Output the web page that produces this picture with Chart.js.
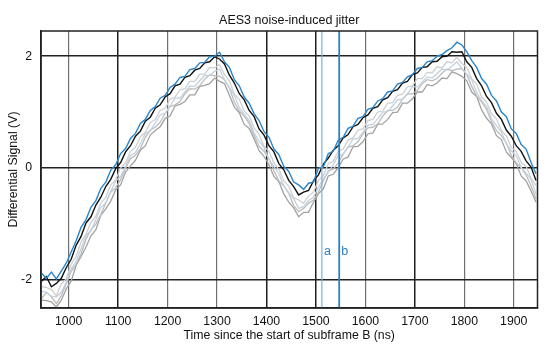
<!DOCTYPE html>
<html>
<head>
<meta charset="utf-8">
<script src="https://cdn.jsdelivr.net/npm/chart.js@4/dist/chart.umd.min.js"></script>
<style>
  html, body { margin: 0; padding: 0; background: #fff; }
  #wrap { width: 550px; height: 351px; }
</style>
</head>
<body>
<div id="wrap"><canvas id="c" width="550" height="351"></canvas></div>
<script>
// ---- data ----
const times = [945,955,965,975,985,995,1005,1015,1025,1035,1045,1055,1065,1075,1085,1095,1105,1115,1125,1135,1145,1155,1165,1175,1185,1195,1205,1215,1225,1235,1245,1255,1265,1275,1285,1295,1305,1315,1325,1335,1345,1355,1365,1375,1385,1395,1405,1415,1425,1435,1445,1455,1465,1475,1485,1495,1505,1515,1525,1535,1545,1555,1565,1575,1585,1595,1605,1615,1625,1635,1645,1655,1665,1675,1685,1695,1705,1715,1725,1735,1745,1755,1765,1775,1785,1795,1805,1815,1825,1835,1845,1855,1865,1875,1885,1895,1905,1915,1925,1935,1945];

const blueTrace = [-1.88,-1.97,-1.86,-1.98,-1.84,-1.70,-1.50,-1.30,-1.06,-0.92,-0.70,-0.58,-0.36,-0.25,-0.04,0.06,0.26,0.35,0.53,0.62,0.80,0.87,1.03,1.10,1.25,1.30,1.44,1.50,1.62,1.64,1.76,1.78,1.88,1.89,1.99,2.00,2.07,1.90,1.80,1.58,1.47,1.27,1.16,0.97,0.85,0.65,0.55,0.34,0.24,0.03,-0.06,-0.25,-0.30,-0.38,-0.27,-0.25,0.00,0.02,0.26,0.30,0.50,0.55,0.71,0.75,0.89,0.92,1.05,1.08,1.20,1.24,1.36,1.38,1.50,1.53,1.63,1.67,1.78,1.80,1.90,1.92,2.00,2.03,2.10,2.15,2.25,2.20,2.08,1.92,1.80,1.60,1.50,1.30,1.20,1.00,0.92,0.70,0.62,0.42,0.34,0.10,-0.10];

const blackTrace = [-2.02,-1.94,-2.12,-2.06,-1.97,-1.78,-1.63,-1.38,-1.22,-0.98,-0.87,-0.66,-0.52,-0.33,-0.20,-0.01,0.10,0.29,0.40,0.57,0.66,0.84,0.91,1.07,1.13,1.27,1.33,1.47,1.50,1.62,1.65,1.75,1.78,1.88,1.90,1.99,1.95,1.86,1.66,1.52,1.33,1.22,1.03,0.92,0.70,0.59,0.40,0.29,0.08,-0.03,-0.22,-0.33,-0.48,-0.43,-0.40,-0.23,-0.12,0.07,0.18,0.32,0.40,0.54,0.60,0.74,0.78,0.90,0.95,1.07,1.10,1.22,1.26,1.37,1.40,1.52,1.55,1.67,1.70,1.80,1.81,1.90,1.91,1.99,2.00,2.08,2.07,2.08,1.90,1.80,1.60,1.47,1.28,1.17,0.98,0.87,0.68,0.57,0.40,0.30,0.13,0.02,-0.22];

const grayA = [-2.12,-2.13,-2.17,-2.28,-2.07,-1.98,-1.72,-1.58,-1.32,-1.18,-0.97,-0.86,-0.62,-0.53,-0.30,-0.21,0.00,0.09,0.30,0.37,0.56,0.64,0.81,0.87,1.03,1.07,1.23,1.27,1.40,1.42,1.55,1.55,1.68,1.68,1.80,1.79,1.85,1.67,1.56,1.32,1.23,1.02,0.93,0.72,0.60,0.39,0.30,0.09,-0.02,-0.23,-0.32,-0.53,-0.57,-0.63,-0.50,-0.43,-0.22,-0.13,0.08,0.12,0.30,0.34,0.50,0.54,0.68,0.70,0.85,0.87,1.00,1.02,1.16,1.17,1.30,1.32,1.45,1.47,1.60,1.60,1.71,1.70,1.81,1.79,1.90,1.88,1.98,1.87,1.80,1.60,1.50,1.27,1.18,0.97,0.88,0.67,0.58,0.37,0.30,0.10,0.03,-0.18,-0.32];

const grayB = [-2.20,-2.22,-2.29,-2.30,-2.22,-2.04,-1.80,-1.67,-1.44,-1.20,-1.12,-0.92,-0.70,-0.62,-0.42,-0.23,-0.15,0.03,0.22,0.28,0.44,0.62,0.66,0.81,0.95,0.98,1.11,1.25,1.25,1.36,1.47,1.46,1.56,1.66,1.65,1.73,1.77,1.58,1.44,1.30,1.08,0.96,0.85,0.63,0.48,0.37,0.15,0.03,-0.10,-0.32,-0.44,-0.55,-0.72,-0.69,-0.58,-0.52,-0.34,-0.19,-0.07,0.06,0.22,0.25,0.38,0.52,0.53,0.64,0.77,0.78,0.88,1.00,1.01,1.11,1.22,1.23,1.33,1.45,1.45,1.54,1.63,1.61,1.69,1.77,1.75,1.82,1.90,1.78,1.68,1.58,1.35,1.21,1.10,0.88,0.76,0.65,0.43,0.31,0.22,0.01,-0.09,-0.20,-0.47];

const grayC = [-2.33,-2.22,-2.30,-2.42,-2.28,-2.07,-1.85,-1.72,-1.53,-1.27,-1.10,-1.00,-0.83,-0.62,-0.43,-0.35,-0.21,0.00,0.17,0.23,0.35,0.55,0.68,0.73,0.82,0.98,1.10,1.13,1.19,1.33,1.42,1.41,1.47,1.59,1.67,1.65,1.64,1.58,1.43,1.18,1.02,0.93,0.80,0.58,0.39,0.30,0.17,-0.05,-0.23,-0.32,-0.45,-0.67,-0.78,-0.72,-0.63,-0.57,-0.43,-0.22,-0.05,-0.02,0.09,0.25,0.37,0.40,0.47,0.61,0.72,0.73,0.79,0.93,1.03,1.03,1.09,1.23,1.32,1.33,1.39,1.51,1.58,1.56,1.60,1.70,1.77,1.74,1.77,1.78,1.67,1.46,1.29,1.18,1.05,0.83,0.67,0.58,0.45,0.23,0.09,0.01,-0.12,-0.32,-0.55];

const grayD = [-2.36,-2.37,-2.39,-2.48,-2.36,-2.16,-2.02,-1.74,-1.58,-1.41,-1.21,-1.10,-0.84,-0.73,-0.59,-0.39,-0.30,-0.07,0.04,0.14,0.32,0.40,0.59,0.67,0.74,0.89,0.93,1.11,1.14,1.19,1.31,1.31,1.46,1.48,1.51,1.61,1.55,1.51,1.30,1.09,0.99,0.78,0.71,0.52,0.31,0.21,0.06,-0.15,-0.24,-0.46,-0.61,-0.71,-0.87,-0.79,-0.79,-0.61,-0.46,-0.37,-0.14,-0.11,0.01,0.16,0.20,0.38,0.39,0.47,0.61,0.63,0.78,0.79,0.87,0.99,1.00,1.16,1.16,1.24,1.36,1.36,1.49,1.47,1.52,1.61,1.60,1.72,1.69,1.64,1.56,1.36,1.28,1.04,0.89,0.79,0.58,0.51,0.29,0.19,0.08,-0.14,-0.23,-0.41,-0.61];

const xTickValues = [1000,1100,1200,1300,1400,1500,1600,1700,1800,1900];
const yTickValues = [-2,0,2];
const markerTimes = [1512, 1547];
const markerLabels = ['a', 'b'];
const markerLabelLevel = -1.5;

const titleText = 'AES3 noise-induced jitter';
const xTitle = 'Time since the start of subframe B (ns)';
const yTitle = 'Differential Signal (V)';

// ---- build ----
const pts = arr => arr.map((v, i) => ({x: times[i], y: v}));
const FONT = '"Liberation Sans", Arial, sans-serif';
const darkX = [1100, 1400, 1500, 1700];

function ds(label, arr, color, width, order) {
  return { label, data: pts(arr), borderColor: color, borderWidth: width,
           pointRadius: 0, fill: false, tension: 0, order };
}

const markerPlugin = {
  id: 'markers',
  afterDatasetsDraw(chart) {
    const {ctx, chartArea: a, scales: {x, y}} = chart;
    ctx.save();
    const cols = ['#7fb0d8', '#2f80c0'];
    const widths = [1.2, 1.8];
    markerTimes.forEach((t, i) => {
      const px = x.getPixelForValue(t);
      ctx.strokeStyle = cols[i];
      ctx.lineWidth = widths[i];
      ctx.beginPath();
      ctx.moveTo(px, a.top);
      ctx.lineTo(px, a.bottom);
      ctx.stroke();
      ctx.fillStyle = '#2f80c0';
      ctx.font = '12.5px ' + FONT;
      ctx.textAlign = 'center';
      ctx.textBaseline = 'middle';
      ctx.fillText(markerLabels[i], px + 5.5, y.getPixelForValue(markerLabelLevel));
    });
    ctx.strokeStyle = '#222';
    ctx.lineWidth = 1.5;
    ctx.strokeRect(a.left, a.top, a.right - a.left, a.bottom - a.top);
    // chart title, centred over the plot area
    ctx.fillStyle = '#111';
    ctx.font = '12.5px ' + FONT;
    ctx.textAlign = 'center';
    ctx.textBaseline = 'middle';
    ctx.fillText(titleText, (a.left + a.right) / 2, 21);
    ctx.restore();
  }
};

new Chart(document.getElementById('c'), {
  type: 'line',
  data: {
    datasets: [
      ds('blue', blueTrace, '#2a86c8', 1.4, 0),
      ds('black', blackTrace, '#111111', 1.4, 1),
      ds('gray a', grayA, '#cfcfcf', 1.3, 2),
      ds('gray b', grayB, '#c2d1df', 1.3, 3),
      ds('gray c', grayC, '#bcbcbc', 1.3, 4),
      ds('gray d', grayD, '#a2a2a2', 1.3, 5)
    ]
  },
  options: {
    responsive: false,
    animation: false,
    layout: { padding: { left: 0, right: 12.5, top: 31, bottom: 0 } },
    plugins: {
      legend: { display: false },
      tooltip: { enabled: false },
      title: { display: false }
    },
    scales: {
      x: {
        type: 'linear', min: 944, max: 1948,
        afterBuildTicks: s => { s.ticks = xTickValues.map(v => ({value: v})); },
        afterFit: s => { s.height = 43; },
        ticks: { color: '#111', font: { family: FONT, size: 12.3 }, padding: 6, maxRotation: 0, autoSkip: false,
                 callback: v => String(v) },
        grid: {
          drawTicks: false,
          color: c => darkX.includes(c.tick && c.tick.value) ? '#1e1e1e' : '#707070',
          lineWidth: c => darkX.includes(c.tick && c.tick.value) ? 1.5 : 1.2
        },
        border: { display: true, color: '#222', width: 1.5 },
        title: { display: true, text: xTitle, color: '#111',
                 font: { family: FONT, size: 12.3 }, padding: { top: 0, bottom: 7.8 } }
      },
      y: {
        type: 'linear', min: -2.5, max: 2.45,
        afterBuildTicks: s => { s.ticks = yTickValues.map(v => ({value: v})); },
        afterFit: s => { s.width = 41; },
        ticks: { color: '#111', font: { family: FONT, size: 12.3 }, padding: 9, callback: v => String(v) },
        grid: { drawTicks: false, color: '#222', lineWidth: 1.5 },
        border: { display: true, color: '#222', width: 1.5 },
        title: { display: true, text: yTitle, color: '#111',
                 font: { family: FONT, size: 12.3 }, padding: { top: 6.3, bottom: 0 } }
      }
    }
  },
  plugins: [markerPlugin]
});
</script>
</body>
</html>
